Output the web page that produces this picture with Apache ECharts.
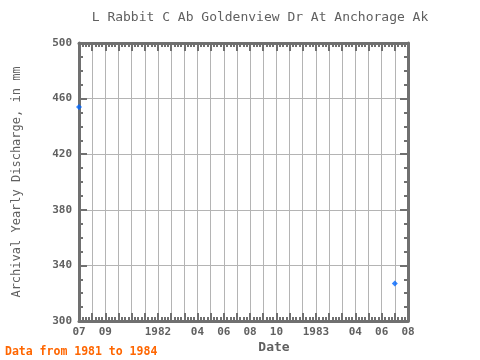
<!DOCTYPE html>
<html><head><meta charset="utf-8">
<script src="https://cdn.jsdelivr.net/npm/echarts@6/dist/echarts.min.js"></script>
<style>html,body{margin:0;padding:0;background:#fff}#c{width:480px;height:360px}</style>
</head><body><div id="c"></div>
<script>
const dates = ["1981-07", "1983-07"];
const values = [454, 327];
const axisStart = "1981-07";
const monthCount = 25;
const tickLabels = {0:"07", 2:"09", 6:"1982", 9:"04", 11:"06", 13:"08", 15:"10", 18:"1983", 21:"04", 23:"06", 25:"08"};
const yMin = 300, yMax = 500, yStep = 40;

function monthIndex(s){
  const [y,m] = s.split("-").map(Number);
  const [y0,m0] = axisStart.split("-").map(Number);
  return (y - y0) * 12 + (m - m0);
}
const pts = dates.map((d,i)=>[monthIndex(d), values[i]]);

const font = "DejaVu Sans Mono";
const gray = "#707070";
const labCol = "#606060";
function common(){
  return {
    axisLine:{show:true,onZero:false,lineStyle:{color:gray,width:3}},
    axisTick:{show:true,inside:true,length:8,lineStyle:{color:gray,width:2}},
    minorTick:{show:true,splitNumber:4,length:4,lineStyle:{color:gray,width:2}},
  };
}
const chart = echarts.init(document.getElementById('c'));
chart.setOption({
  animation:false,
  grid:{left:79,right:72,top:43,bottom:39,containLabel:false},
  xAxis:[
    Object.assign({type:'value',min:0,max:monthCount,interval:1,position:'bottom',
      axisLabel:{margin:6,color:labCol,fontFamily:font,fontSize:11,fontWeight:'bold',
        formatter:v=>tickLabels[v]!==undefined?tickLabels[v]:'',showMinLabel:true,showMaxLabel:true},
      splitLine:{show:true,lineStyle:{color:'#b4b4b4',width:1}}},common()),
    Object.assign({type:'value',min:0,max:monthCount,interval:1,position:'top',
      axisLabel:{show:false},splitLine:{show:false}},common())
  ],
  yAxis:[
    Object.assign({type:'value',min:yMin,max:yMax,interval:yStep,position:'left',
      axisLabel:{margin:7,color:labCol,fontFamily:font,fontSize:11,fontWeight:'bold'},
      splitLine:{show:true,lineStyle:{color:'#b4b4b4',width:1}}},common()),
    Object.assign({type:'value',min:yMin,max:yMax,interval:yStep,position:'right',
      axisLabel:{show:false},splitLine:{show:false}},common())
  ],
  graphic:[
    {type:'text',x:260,y:18,style:{text:"L Rabbit C Ab Goldenview Dr At Anchorage Ak",fill:labCol,font:"13px "+font,textAlign:'center',textVerticalAlign:'middle'}},
    {type:'text',rotation:Math.PI/2,x:17,y:182,style:{text:"Archival Yearly Discharge, in mm",fill:labCol,font:"12px "+font,textAlign:'center',textVerticalAlign:'middle'}},
    {type:'text',x:274,y:348,style:{text:"Date",fill:labCol,font:"bold 13px "+font,textAlign:'center',textVerticalAlign:'middle'}},
    {type:'text',x:5,y:352,style:{text:"Data from 1981 to 1984",fill:"#ff6600",font:"bold 11.5px "+font,textAlign:'left',textVerticalAlign:'middle'}}
  ],
  series:[{type:'scatter',data:pts,symbol:'diamond',symbolSize:6,itemStyle:{color:'#0066ff'},xAxisIndex:0,yAxisIndex:0}]
});
</script></body></html>
